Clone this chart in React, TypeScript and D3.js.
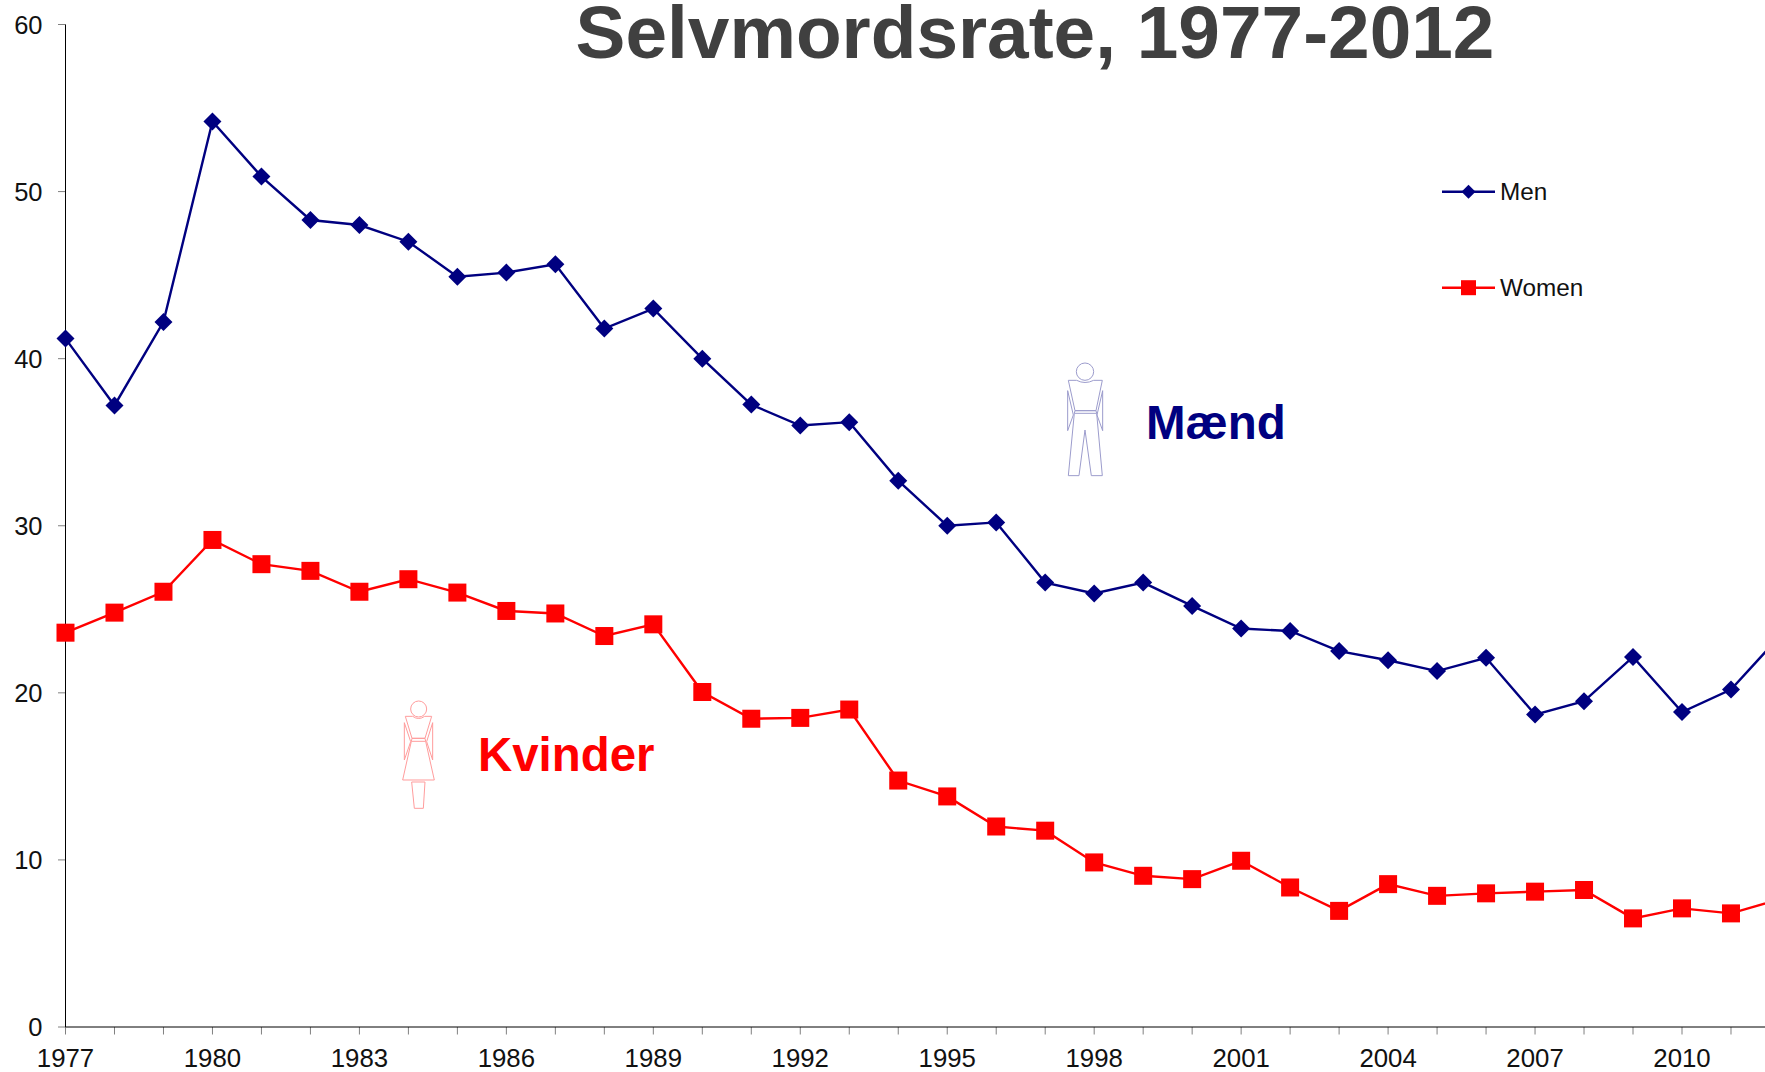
import React from "react";
import * as d3 from "d3";

const years = d3.range(1977, 2013);
const men = [41.2, 37.2, 42.2, 54.2, 50.9, 48.3, 48.0, 47.0, 44.9, 45.15, 45.65, 41.8, 43.0, 40.0, 37.25, 36.0, 36.2, 32.7, 30.0, 30.2, 26.6, 25.95, 26.6, 25.2, 23.85, 23.7, 22.5, 21.95, 21.3, 22.1, 18.7, 19.5, 22.15, 18.85, 20.2, 23.4];
const women = [23.6, 24.8, 26.05, 29.15, 27.7, 27.3, 26.05, 26.8, 26.0, 24.9, 24.75, 23.4, 24.1, 20.05, 18.45, 18.5, 19.0, 14.75, 13.8, 12.0, 11.75, 9.85, 9.05, 8.85, 9.95, 8.35, 6.95, 8.55, 7.85, 8.0, 8.1, 8.2, 6.5, 7.1, 6.8, 7.65];
const yTicks = [0, 10, 20, 30, 40, 50, 60];
const xLabels = d3.range(1977, 2011, 3);

const NAVY = "#000080";
const RED = "#ff0000";
const FONT = "'Liberation Sans', Arial, sans-serif";

const x = d3.scaleLinear().domain([1977, 2010]).range([65.5, 1682]);
const y = d3.scaleLinear().domain([0, 60]).range([1027, 24.5]);
const line = d3.line<number>().x((_, i) => x(years[i])).y((d) => y(d));

const diamond = d3.symbol().type(d3.symbolSquare).size(162)();
const legendDiamond = d3.symbol().type(d3.symbolSquare).size(98)();

function Man() {
  return (
    <g transform="translate(1020,340) scale(0.3333)" fill="none" stroke="#9c9ccc" strokeWidth={3}>
      <circle cx={195} cy={95} r={26} />
      <path d="M145,121 L170,121 Q195,134 221,121 L247,121 L228,212 L165,212 Z" />
      <path d="M165,212 L228,212 L230,220 L163,220 Z" />
      <path d="M163,220 L145,407 L177,407 L195,270 L214,407 L247,407 L230,220" />
      <path d="M143,152 L160,225 L143,272 Z" />
      <path d="M248,152 L231,225 L248,272 Z" />
    </g>
  );
}

function Woman() {
  return (
    <g transform="translate(380,680) scale(0.3333)" fill="none" stroke="#ff9c9c" strokeWidth={3}>
      <circle cx={116} cy={87} r={24} />
      <path d="M76,109 L98,109 Q116,122 134,109 L155,109 L135,175 L96,175 Z" />
      <path d="M96,175 L135,175 L137,184 L94,184 Z" />
      <path d="M94,184 L68,300 L163,300 L137,184" />
      <path d="M95,306 L135,306 L130,385 L103,385 Z" />
      <path d="M73,128 L92,185 L73,240 Z" />
      <path d="M158,128 L140,185 L158,240 Z" />
    </g>
  );
}

export default function App() {
  return (
    <svg width={1765} height={1072} style={{ position: "absolute", left: 0, top: 0 }} fontFamily={FONT}>
      <rect width={1765} height={1072} fill="#fff" />

      <text x={1035} y={57.5} textAnchor="middle" fontSize={74.8} fontWeight="bold" fill="#404040">
        Selvmordsrate, 1977-2012
      </text>

      {yTicks.map((t) => (
        <g key={t}>
          <line x1={58} x2={65.5} y1={y(t)} y2={y(t)} stroke="#808080" strokeWidth={1} />
          <text x={42.5} y={y(t) + 9} textAnchor="end" fontSize={25.5} fill="#111">{t}</text>
        </g>
      ))}
      {years.map((yr) => (
        <line key={yr} x1={x(yr)} x2={x(yr)} y1={1027} y2={1034.5} stroke="#808080" strokeWidth={1} />
      ))}
      {xLabels.map((yr) => (
        <text key={yr} x={x(yr)} y={1066.5} textAnchor="middle" fontSize={25.8} fill="#111">{yr}</text>
      ))}
      <line x1={65.5} x2={65.5} y1={24.5} y2={1027} stroke="#000" strokeWidth={1} />
      <line x1={65.5} x2={1765} y1={1027} y2={1027} stroke="#000" strokeWidth={1} />

      <path d={line(men) ?? ""} fill="none" stroke={NAVY} strokeWidth={2.4} />
      {men.map((v, i) => (
        <path key={i} d={diamond ?? ""} transform={`translate(${x(years[i])},${y(v)}) rotate(45)`} fill={NAVY} />
      ))}
      <path d={line(women) ?? ""} fill="none" stroke={RED} strokeWidth={2.4} />
      {women.map((v, i) => (
        <rect key={i} x={x(years[i]) - 9} y={y(v) - 9} width={18} height={18} fill={RED} />
      ))}

      <line x1={1442} x2={1495} y1={191.7} y2={191.7} stroke={NAVY} strokeWidth={2.4} />
      <path d={legendDiamond ?? ""} transform="translate(1468.5,191.7) rotate(45)" fill={NAVY} />
      <text x={1500} y={200} fontSize={24.3} fill="#111">Men</text>
      <line x1={1442} x2={1495} y1={287.7} y2={287.7} stroke={RED} strokeWidth={2.4} />
      <rect x={1461} y={280.2} width={15} height={15} fill={RED} />
      <text x={1500} y={296} fontSize={24.3} fill="#111">Women</text>

      <Man />
      <Woman />
      <text x={1146} y={439} fontSize={47.5} fontWeight="bold" fill={NAVY}>Mænd</text>
      <text x={478} y={771} fontSize={47.4} fontWeight="bold" fill={RED}>Kvinder</text>
    </svg>
  );
}
